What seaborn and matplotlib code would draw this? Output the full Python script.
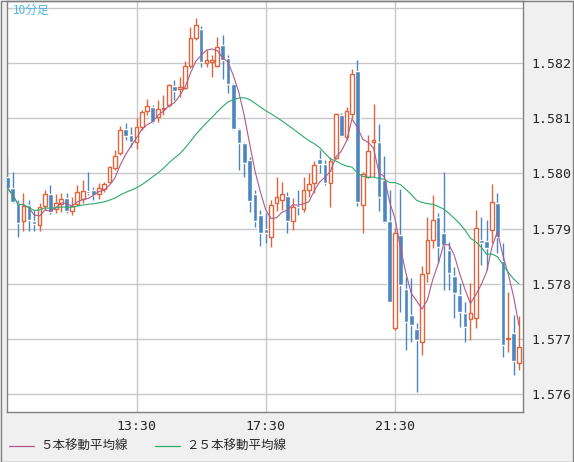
import matplotlib
matplotlib.use("Agg")
import matplotlib.pyplot as plt
import numpy as np
import pandas as pd
import seaborn as sns

# 10-minute candles from 09:30
opens = [1.57994, 1.57974, 1.57947, 1.57914, 1.57943, 1.57914, 1.57907, 1.57941, 1.57963, 1.57936,
         1.57945, 1.57956, 1.57932, 1.57945, 1.57954, 1.57968, 1.57970, 1.57963, 1.57972, 1.57985,
         1.58010, 1.58037, 1.58081, 1.58070, 1.58057, 1.58084, 1.58113, 1.58120, 1.58102, 1.58117,
         1.58124, 1.58158, 1.58153, 1.58155, 1.58195, 1.58245, 1.58262, 1.58200, 1.58202, 1.58195,
         1.58233, 1.58209, 1.58162, 1.58081, 1.58055, 1.58024, 1.57963, 1.57925, 1.57900, 1.57885,
         1.57947, 1.57952, 1.57959, 1.57914, 1.57943, 1.57936, 1.57970, 1.57983, 1.58026, 1.58017,
         1.57983, 1.58028, 1.58106, 1.58066, 1.58108, 1.58185, 1.57943, 1.57994, 1.58057, 1.58057,
         1.57988, 1.57914, 1.57720, 1.57889, 1.57791, 1.57744, 1.57719, 1.57695, 1.57820, 1.57880,
         1.57921, 1.57892, 1.57862, 1.57814, 1.57780, 1.57747, 1.57737, 1.57738, 1.57880, 1.57878,
         1.57898, 1.57947, 1.57842, 1.57700, 1.57711, 1.57657]
highs = [1.58028, 1.58003, 1.57952, 1.57965, 1.57952, 1.57934, 1.57947, 1.57970, 1.57979, 1.57963,
         1.57965, 1.57965, 1.57957, 1.57979, 1.57988, 1.58003, 1.57975, 1.57983, 1.57985, 1.58014,
         1.58043, 1.58086, 1.58091, 1.58084, 1.58100, 1.58115, 1.58135, 1.58124, 1.58133, 1.58142,
         1.58162, 1.58169, 1.58175, 1.58204, 1.58265, 1.58281, 1.58267, 1.58224, 1.58214, 1.58247,
         1.58251, 1.58214, 1.58164, 1.58083, 1.58057, 1.58030, 1.57970, 1.57934, 1.57929, 1.57952,
         1.57994, 1.57985, 1.57967, 1.57956, 1.57970, 1.57994, 1.58001, 1.58023, 1.58043, 1.58024,
         1.58030, 1.58109, 1.58109, 1.58120, 1.58189, 1.58205, 1.58003, 1.58070, 1.58126, 1.58090,
         1.58032, 1.57970, 1.57901, 1.57972, 1.57813, 1.57811, 1.57729, 1.57833, 1.57921, 1.57961,
         1.57929, 1.58003, 1.57876, 1.57831, 1.57802, 1.57767, 1.57802, 1.57934, 1.57921, 1.57916,
         1.57981, 1.57965, 1.57874, 1.57785, 1.57744, 1.57742]
lows = [1.57965, 1.57947, 1.57885, 1.57896, 1.57896, 1.57896, 1.57896, 1.57934, 1.57927, 1.57928,
        1.57930, 1.57928, 1.57925, 1.57941, 1.57947, 1.57961, 1.57952, 1.57954, 1.57967, 1.57983,
        1.58006, 1.58033, 1.58061, 1.58048, 1.58044, 1.58079, 1.58106, 1.58091, 1.58093, 1.58106,
        1.58120, 1.58133, 1.58138, 1.58153, 1.58191, 1.58242, 1.58193, 1.58193, 1.58175, 1.58193,
        1.58171, 1.58146, 1.58079, 1.58006, 1.57994, 1.57930, 1.57903, 1.57869, 1.57874, 1.57867,
        1.57932, 1.57934, 1.57892, 1.57898, 1.57925, 1.57930, 1.57957, 1.57965, 1.58001, 1.57979,
        1.57939, 1.58026, 1.58066, 1.58061, 1.58100, 1.57941, 1.57892, 1.57992, 1.57994, 1.57932,
        1.57910, 1.57767, 1.57717, 1.57749, 1.57681, 1.57695, 1.57605, 1.57671, 1.57804, 1.57865,
        1.57838, 1.57789, 1.57789, 1.57738, 1.57722, 1.57695, 1.57699, 1.57720, 1.57834, 1.57825,
        1.57874, 1.57856, 1.57668, 1.57677, 1.57635, 1.57644]
closes = [1.57974, 1.57948, 1.57910, 1.57941, 1.57916, 1.57909, 1.57939, 1.57963, 1.57930, 1.57947,
          1.57954, 1.57932, 1.57941, 1.57967, 1.57968, 1.57965, 1.57961, 1.57974, 1.57981, 1.58012,
          1.58032, 1.58079, 1.58068, 1.58057, 1.58084, 1.58111, 1.58122, 1.58093, 1.58117, 1.58119,
          1.58160, 1.58149, 1.58157, 1.58195, 1.58245, 1.58269, 1.58202, 1.58205, 1.58205, 1.58229,
          1.58205, 1.58162, 1.58081, 1.58055, 1.58019, 1.57950, 1.57914, 1.57892, 1.57892, 1.57943,
          1.57957, 1.57963, 1.57914, 1.57939, 1.57939, 1.57970, 1.57981, 1.58015, 1.58017, 1.57983,
          1.58023, 1.58108, 1.58068, 1.58113, 1.58180, 1.57948, 1.57999, 1.58041, 1.58061, 1.57957,
          1.57912, 1.57767, 1.57892, 1.57798, 1.57731, 1.57726, 1.57699, 1.57818, 1.57880, 1.57916,
          1.57867, 1.57871, 1.57820, 1.57784, 1.57749, 1.57722, 1.57747, 1.57901, 1.57874, 1.57865,
          1.57948, 1.57885, 1.57690, 1.57702, 1.57661, 1.57686]
tick_labels = ["13:30", "17:30", "21:30"]
tick_index = [24, 48, 72]
y_ticks = [1.576, 1.577, 1.578, 1.579, 1.580, 1.581, 1.582]
legend_labels = ["５本移動平均線", "２５本移動平均線"]

df = pd.DataFrame({"open": opens, "high": highs, "low": lows, "close": closes})
df["i"] = np.arange(len(df))
df["ma5"] = df["close"].rolling(5, min_periods=1).mean()
df["ma25"] = df["close"].rolling(25, min_periods=1).mean()

sns.set_style("white")
plt.rcParams["font.family"] = ["Noto Sans CJK JP", "DejaVu Sans"]

RED = "#e0643c"
BLUE = "#4a86c0"
fig = plt.figure(figsize=(5.74, 4.62), dpi=100, facecolor="#f0f0f0")
ax = fig.add_axes([7 / 574, 1 - 412 / 462, 516 / 574, 411 / 462])
ax.set_facecolor("white")

for x in tick_index:
    ax.axvline(x, color="#c8c8c8", lw=1, zorder=0)
for y in y_ticks + [1.583]:
    ax.axhline(y, color="#c8c8c8", lw=1, zorder=0)

up = df["close"] >= df["open"]
colors = np.where(up, RED, BLUE)
ax.vlines(df["i"], df["low"], df["high"], colors=colors, lw=1, zorder=2)
bottoms = df[["open", "close"]].min(axis=1)
heights = (df["close"] - df["open"]).abs().clip(lower=0.000012)
ax.bar(df["i"][~up], heights[~up], bottom=bottoms[~up], width=0.85, color=BLUE, zorder=3)
ax.bar(df["i"][up], heights[up], bottom=bottoms[up], width=0.7, facecolor="white",
       edgecolor=RED, lw=1, zorder=3)

sns.lineplot(x=df["i"], y=df["ma5"], ax=ax, color="#b05a8c", lw=0.8, zorder=4)
sns.lineplot(x=df["i"], y=df["ma25"], ax=ax, color="#2eaa6a", lw=0.8, zorder=4)

ax.set_xlim(-0.05, 95.75)
ax.set_ylim(1.57568, 1.58312)
ax.yaxis.tick_right()
ax.set_yticks(y_ticks)
ax.set_yticklabels([f"{v:.3f}" for v in y_ticks], fontsize=9.5, family="DejaVu Sans Mono")
ax.set_xticks(tick_index)
ax.set_xticklabels(tick_labels, fontsize=9.5, family="DejaVu Sans Mono")
ax.tick_params(length=0, pad=6)
ax.set_xlabel("")
ax.set_ylabel("")
for s in ax.spines.values():
    s.set_color("#808080")
    s.set_linewidth(1)

ax.text(0.012, 0.993, "10分足", transform=ax.transAxes, color="#4cb4e6", fontsize=8.5,
        va="top", ha="left")

# legend row at the bottom
fig.add_artist(plt.Line2D([9 / 574, 34 / 574], [16 / 462, 16 / 462], color="#b05a8c", lw=0.9))
fig.text(40 / 574, 16 / 462, legend_labels[0], fontsize=9, va="center")
fig.add_artist(plt.Line2D([155 / 574, 180 / 574], [16 / 462, 16 / 462], color="#2eaa6a", lw=0.9))
fig.text(186 / 574, 16 / 462, legend_labels[1], fontsize=9, va="center")
fig.add_artist(plt.Rectangle((0.001, 0.001), 0.997, 0.997, transform=fig.transFigure,
                             fill=False, edgecolor="#808080", lw=1))

fig.savefig("out.png", dpi=100, facecolor=fig.get_facecolor())
